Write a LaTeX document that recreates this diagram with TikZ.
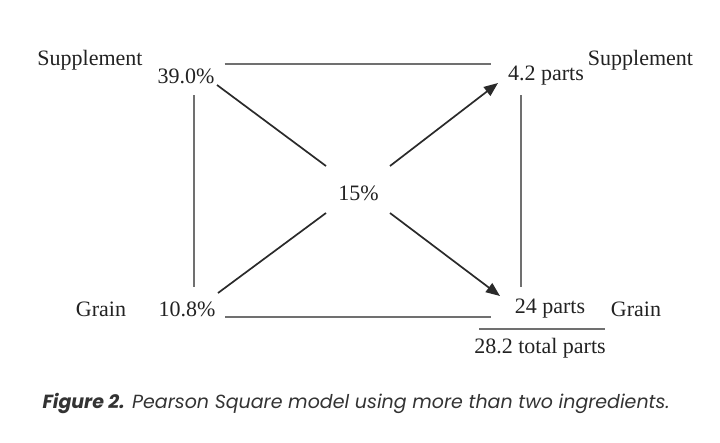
\documentclass[tikz,border=0pt]{standalone}
\usepackage{fontspec}
\setmainfont{Liberation Serif}
\newfontfamily\capfont{Poppins}
\usetikzlibrary{arrows.meta}
\definecolor{txt}{HTML}{222222}
\definecolor{boxline}{HTML}{707070}
\definecolor{diag}{HTML}{2A2A2A}
\definecolor{captxt}{HTML}{333333}
\begin{document}
\begin{tikzpicture}[x=1pt,y=-1pt,
  hold/.style={inner sep=0pt,outer sep=0pt,minimum width=#1},
  lbl/.style={inner sep=0pt,font=\fontsize{22}{24}\selectfont,text=txt},
  sqline/.style={line width=2.2pt,draw=boxline},
  diagline/.style={line width=1.7pt,draw=diag},
  diagarrow/.style={diagline,-{Triangle[length=14pt,width=11pt]}}]
\fill[white] (0,0) rectangle (720,442);
\useasboundingbox (0,0) rectangle (720,442);
% invisible holder boxes
\node[hold=61pt,minimum height=62pt] (b39) at (194,64) {};
\node[hold=60pt,minimum height=62pt] (b42) at (521,64) {};
\node[hold=64pt,minimum height=47pt] (b15) at (358,189.5) {};
\node[hold=62pt,minimum height=60pt] (b108) at (194,317) {};
\node[hold=60pt,minimum height=60pt] (b24) at (521,317) {};
% texts
\node[lbl] (supL) at (90,60) {Supplement};
\node[lbl] (t39) at (186,76) {39.0\%};
\node[lbl] (t42) at (546,76) {4.2 parts};
\node[lbl] (supR) at (640.5,60) {Supplement};
\node[lbl] (t15) at (358.5,193) {15\%};
\node[lbl] (grL) at (101,309) {Grain};
\node[lbl] (t108) at (187,309) {10.8\%};
\node[lbl] (t24) at (550,309) {24 parts};
\node[lbl] (grR) at (636,309) {Grain};
\node[lbl] (total) at (540,348) {28.2 total parts};
\node[inner sep=0pt,text=captxt,font=\capfont\fontsize{19}{21}\selectfont\itshape] (cap) at (356,403)
  {\textbf{Figure 2.} Pearson Square model using more than two ingredients.};
\coordinate (ulA) at (479,329);
\coordinate (ulB) at (605,329);
% square lines
\draw[sqline] (b39.east) -- (b42.west);
\draw[sqline] (b108.east) -- (b24.west);
\draw[sqline] (b39.south) -- (b108.north);
\draw[sqline] (b42.south) -- (b24.north);
\draw[sqline] (ulA) -- (ulB);
% diagonals
\draw[diagline] ([shift={(23,21)}]b39.center) -- (b15.north west);
\draw[diagline] ([shift={(24,-24)}]b108.center) -- (b15.south west);
\draw[diagarrow] (b15.north east) -- ([shift={(-23,19)}]b42.center);
\draw[diagarrow] (b15.south east) -- ([shift={(-21,-21)}]b24.center);
\end{tikzpicture}
\end{document}
